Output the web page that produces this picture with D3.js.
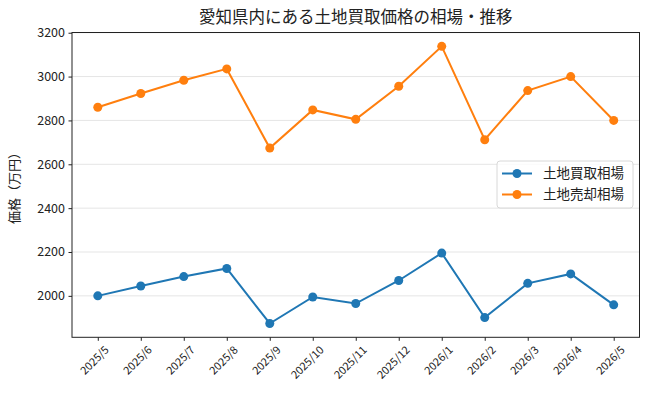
<!DOCTYPE html>
<html>
<head>
<meta charset="utf-8">
<script src="https://cdn.jsdelivr.net/npm/d3@7"></script>
<style>
  body { margin: 0; background: #fff; }
  svg { display: block; font-family: "Noto Sans CJK JP", "Noto Sans", sans-serif; }
</style>
</head>
<body>
<svg id="chart" width="650" height="396"></svg>
<script>
const months = ['2025/5', '2025/6', '2025/7', '2025/8', '2025/9', '2025/10', '2025/11',
    '2025/12', '2026/1', '2026/2', '2026/3', '2026/4', '2026/5'];
const buyPrice = [2000, 2045, 2088, 2125, 1874, 1995, 1965, 2070, 2195, 1901, 2057, 2100, 1959];
const sellPrice = [2860, 2923, 2983, 3035, 2674, 2848, 2805, 2956, 3138, 2712, 2936, 3000, 2800];
const yTicks = [2000, 2200, 2400, 2600, 2800, 3000, 3200];
const seriesNames = ['土地買取相場', '土地売却相場'];
const colors = ['#1f77b4', '#ff7f0e'];

const svg = d3.select('#chart');
const plot = { left: 72, right: 639.5, top: 32.5, bottom: 337.3 };
const FONT = '"Noto Sans CJK JP", "Noto Sans", sans-serif';

let x = d3.scaleLinear()
    .domain([-0.6, months.length - 1 + 0.6])
    .range([plot.left, plot.right]);
let y = d3.scaleLinear()
    .domain([1811, 3201])
    .range([plot.bottom, plot.top]);

// grid
svg.append('g')
    .selectAll('line')
    .data(yTicks)
    .enter()
    .append('line')
    .attr('x1', plot.left)
    .attr('x2', plot.right)
    .attr('y1', d => y(d))
    .attr('y2', d => y(d))
    .attr('stroke', '#e5e5e5')
    .attr('stroke-width', 1);

// y axis
let yAxis = svg.append('g')
    .attr('transform', 'translate(' + plot.left + ',0)')
    .call(d3.axisLeft(y).tickValues(yTicks).tickFormat(d3.format('d')).tickSize(3.5).tickPadding(3.5));
yAxis.attr('font-family', FONT);
yAxis.select('.domain').remove();
yAxis.selectAll('text')
    .style('font-size', '12.5px')
    .attr('fill', '#222');
yAxis.selectAll('line').attr('stroke', '#222');

// x axis
let xAxis = svg.append('g')
    .attr('transform', 'translate(0,' + plot.bottom + ')')
    .call(d3.axisBottom(x)
        .tickValues(d3.range(months.length))
        .tickFormat(i => months[i])
        .tickSize(3.5));
xAxis.attr('font-family', FONT);
xAxis.select('.domain').remove();
xAxis.selectAll('line').attr('stroke', '#222');
xAxis.selectAll('text')
    .style('font-size', '11px')
    .attr('fill', '#222')
    .attr('text-anchor', 'end')
    .attr('dy', null)
    .attr('transform', 'translate(4,6) rotate(-45)')
    .attr('y', 0)
    .attr('x', 0)
    .attr('dominant-baseline', 'hanging');

// series
let series = [buyPrice, sellPrice];
let line = d3.line()
    .x((d, i) => x(i))
    .y(d => y(d));

series.forEach((vals, s) => {
    svg.append('path')
        .datum(vals)
        .attr('d', line)
        .attr('fill', 'none')
        .attr('stroke', colors[s])
        .attr('stroke-width', 2);
    svg.append('g')
        .selectAll('circle')
        .data(vals)
        .enter()
        .append('circle')
        .attr('cx', (d, i) => x(i))
        .attr('cy', d => y(d))
        .attr('r', 4.5)
        .attr('fill', colors[s]);
});

// frame
svg.append('rect')
    .attr('x', plot.left)
    .attr('y', plot.top)
    .attr('width', plot.right - plot.left)
    .attr('height', plot.bottom - plot.top)
    .attr('fill', 'none')
    .attr('stroke', '#222')
    .attr('stroke-width', 1);

// title
svg.append('text')
    .attr('x', (plot.left + plot.right) / 2)
    .attr('y', 23)
    .attr('text-anchor', 'middle')
    .style('font-size', '16.5px')
    .attr('fill', '#222')
    .text('愛知県内にある土地買取価格の相場・推移');

// y label
svg.append('text')
    .attr('transform', 'translate(19,' + ((plot.top + plot.bottom) / 2) + ') rotate(-90)')
    .attr('text-anchor', 'middle')
    .style('font-size', '13px')
    .attr('fill', '#222')
    .text('価格（万円）');

// legend
let legend = svg.append('g').attr('transform', 'translate(497,161)');
legend.append('rect')
    .attr('width', 136)
    .attr('height', 47)
    .attr('rx', 3)
    .attr('fill', 'rgba(255,255,255,0.8)')
    .attr('stroke', '#d8d8d8');
seriesNames.forEach((name, i) => {
    let g = legend.append('g').attr('transform', 'translate(0,' + (12.5 + i * 21) + ')');
    g.append('line')
        .attr('x1', 5).attr('x2', 35)
        .attr('stroke', colors[i])
        .attr('stroke-width', 2);
    g.append('circle')
        .attr('cx', 20)
        .attr('r', 4.5)
        .attr('fill', colors[i]);
    g.append('text')
        .attr('x', 46)
        .attr('dy', '0.35em')
        .style('font-size', '13.5px')
        .attr('fill', '#222')
        .text(name);
});
</script>
</body>
</html>
